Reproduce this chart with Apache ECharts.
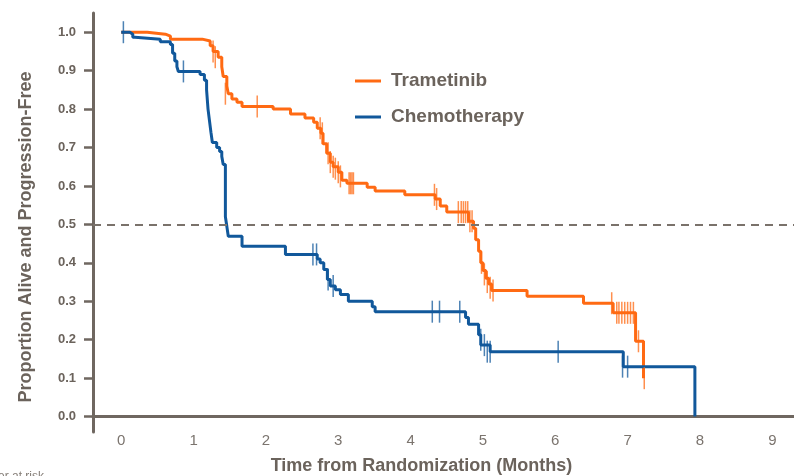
<!DOCTYPE html>
<html>
<head>
<meta charset="utf-8">
<script src="https://cdn.jsdelivr.net/npm/echarts@6/dist/echarts.min.js"></script>
<style>
html,body{margin:0;padding:0;background:#fff;}
#c{width:794px;height:476px;}
</style>
</head>
<body>
<div id="c"></div>
<script>
// ---- Data ----
const seriesNames = ['Trametinib', 'Chemotherapy'];
const xTicks = [0,1,2,3,4,5,6,7,8,9];
const yTicks = [0,0.1,0.2,0.3,0.4,0.5,0.6,0.7,0.8,0.9,1.0];
const medianLine = 0.5;

const tramTimes = [0,0.36,0.61,0.68,1.12,1.23,1.27,1.34,1.39,1.41,1.46,1.48,1.53,1.6,1.67,2.1,2.34,2.54,2.66,2.71,2.76,2.79,2.84,2.89,2.93,3.0,3.05,3.12,3.4,3.51,3.92,4.34,4.41,4.5,4.8,4.87,4.9,4.94,4.97,5.0,5.04,5.08,5.12,5.61,6.39,6.8,7.11,7.22];
const tramSurv  = [1.0,0.995,0.99,0.982,0.977,0.965,0.95,0.935,0.91,0.885,0.86,0.84,0.826,0.818,0.807,0.80,0.787,0.777,0.766,0.75,0.737,0.71,0.685,0.662,0.65,0.636,0.615,0.607,0.597,0.587,0.577,0.566,0.548,0.532,0.508,0.49,0.46,0.43,0.40,0.38,0.36,0.345,0.328,0.313,0.295,0.27,0.196,0.10];

const chemoTimes = [0,0.12,0.16,0.19,0.54,0.68,0.71,0.74,0.77,0.79,1.09,1.15,1.18,1.2,1.22,1.24,1.26,1.32,1.36,1.39,1.41,1.44,1.46,1.48,1.67,2.27,2.71,2.75,2.8,2.85,2.89,2.96,3.03,3.14,3.47,3.51,4.76,4.8,4.94,4.97,5.1,6.94,7.93];
const chemoSurv  = [1.0,0.995,0.987,0.982,0.975,0.968,0.945,0.925,0.91,0.898,0.89,0.875,0.85,0.80,0.77,0.74,0.713,0.70,0.69,0.677,0.656,0.52,0.495,0.469,0.443,0.422,0.41,0.40,0.383,0.357,0.34,0.33,0.318,0.30,0.286,0.273,0.258,0.24,0.213,0.186,0.169,0.13,0.0];

const tramCensorTimes = [1.27,1.3,1.44,1.88,2.75,2.78,2.86,2.89,2.93,2.96,3.0,3.03,3.15,3.17,3.19,3.21,4.33,4.36,4.66,4.7,4.73,4.76,4.79,4.82,4.85,4.98,5.02,5.06,5.1,5.14,6.78,6.85,6.88,6.92,6.96,7.0,7.04,7.08,7.15,7.23];
const tramCensorSurv  = [0.95,0.935,0.84,0.807,0.75,0.737,0.685,0.662,0.65,0.645,0.636,0.625,0.607,0.607,0.607,0.607,0.577,0.566,0.532,0.532,0.532,0.532,0.532,0.508,0.508,0.40,0.37,0.35,0.335,0.328,0.295,0.27,0.27,0.27,0.27,0.27,0.27,0.27,0.196,0.10];

const chemoCensorTimes = [0.03,0.86,2.65,2.7,2.86,2.93,4.3,4.4,4.68,4.97,5.02,5.06,5.1,6.04,6.93,7.0];
const chemoCensorSurv  = [1.0,0.898,0.422,0.422,0.357,0.34,0.273,0.273,0.273,0.2,0.186,0.169,0.169,0.169,0.13,0.13];

// ---- Styles ----
const ORANGE = '#ff6a13';
const BLUE = '#11589b';
const AXIS = '#6f6760';
const TEXT = '#6b635c';
const FONT = '"Liberation Sans", Arial, sans-serif';

const zip = (a, b) => a.map((v, i) => [v, b[i]]);

const chart = echarts.init(document.getElementById('c'), null, {renderer: 'canvas'});
chart.setOption({
  animation: false,
  backgroundColor: '#fff',
  grid: {left: 93, right: 0, top: 13, bottom: 44, containLabel: false, outerBoundsMode: 'none'},
  legend: {
    data: seriesNames,
    orient: 'vertical',
    left: 350, top: 66,
    icon: 'rect',
    itemWidth: 26, itemHeight: 3,
    itemGap: 16,
    textStyle: {fontFamily: FONT, fontSize: 19, fontWeight: 'bold', color: TEXT, padding: [0,0,0,5], lineHeight: 20}
  },
  xAxis: {
    type: 'value',
    min: -0.39, max: 9.3,
    axisLine: {show: true, onZero: true, lineStyle: {color: AXIS, width: 3}},
    axisTick: {show: false},
    splitLine: {show: false},
    axisLabel: {
      customValues: xTicks,
      margin: 1,
      fontFamily: FONT, fontSize: 15, color: '#7b746e',
      formatter: v => String(v)
    },
    name: 'Time from Randomization (Months)',
    nameLocation: 'middle',
    nameGap: 25,
    nameTextStyle: {fontFamily: FONT, fontSize: 18, fontWeight: 'bold', color: TEXT, padding: [0,44,0,0]}
  },
  yAxis: {
    type: 'value',
    min: -0.04, max: 1.05,
    axisLine: {show: true, onZero: false, lineStyle: {color: AXIS, width: 3}},
    axisTick: {show: true, customValues: yTicks, length: 9, inside: false, lineStyle: {color: AXIS, width: 2.5}},
    splitLine: {show: false},
    axisLabel: {
      customValues: yTicks,
      margin: 17,
      fontFamily: FONT, fontSize: 13, fontWeight: 'bold', color: TEXT,
      formatter: v => v.toFixed(1)
    },
    name: 'Proportion Alive and Progression-Free',
    nameLocation: 'middle',
    nameGap: 58,
    nameTextStyle: {fontFamily: FONT, fontSize: 18, fontWeight: 'bold', color: TEXT, padding: [0,29,0,0]}
  },
  graphic: [{
    type: 'text', left: -34, top: 471,
    style: {text: 'Number at risk', font: '12px ' + FONT, fill: '#857e78'}
  }],
  series: [
    {
      name: seriesNames[0], type: 'line', step: 'end', showSymbol: false, symbol: 'none',
      data: zip(tramTimes, tramSurv),
      lineStyle: {color: ORANGE, width: 3}, itemStyle: {color: ORANGE}, z: 3,
      markLine: {
        silent: true, symbol: 'none', label: {show: false},
        lineStyle: {color: '#7a726b', type: [8, 6], width: 2},
        data: [{yAxis: medianLine}]
      }
    },
    {
      name: seriesNames[1], type: 'line', step: 'end', showSymbol: false, symbol: 'none',
      data: zip(chemoTimes, chemoSurv),
      lineStyle: {color: BLUE, width: 3}, itemStyle: {color: BLUE}, z: 3
    },
    {
      name: 'Trametinib censored', type: 'scatter', symbol: 'rect', symbolSize: [1.5, 22],
      data: zip(tramCensorTimes, tramCensorSurv),
      itemStyle: {color: ORANGE, opacity: 0.75}, z: 4, silent: true
    },
    {
      name: 'Chemotherapy censored', type: 'scatter', symbol: 'rect', symbolSize: [1.5, 22],
      data: zip(chemoCensorTimes, chemoCensorSurv),
      itemStyle: {color: BLUE, opacity: 0.75}, z: 4, silent: true
    }
  ]
});
</script>
</body>
</html>
